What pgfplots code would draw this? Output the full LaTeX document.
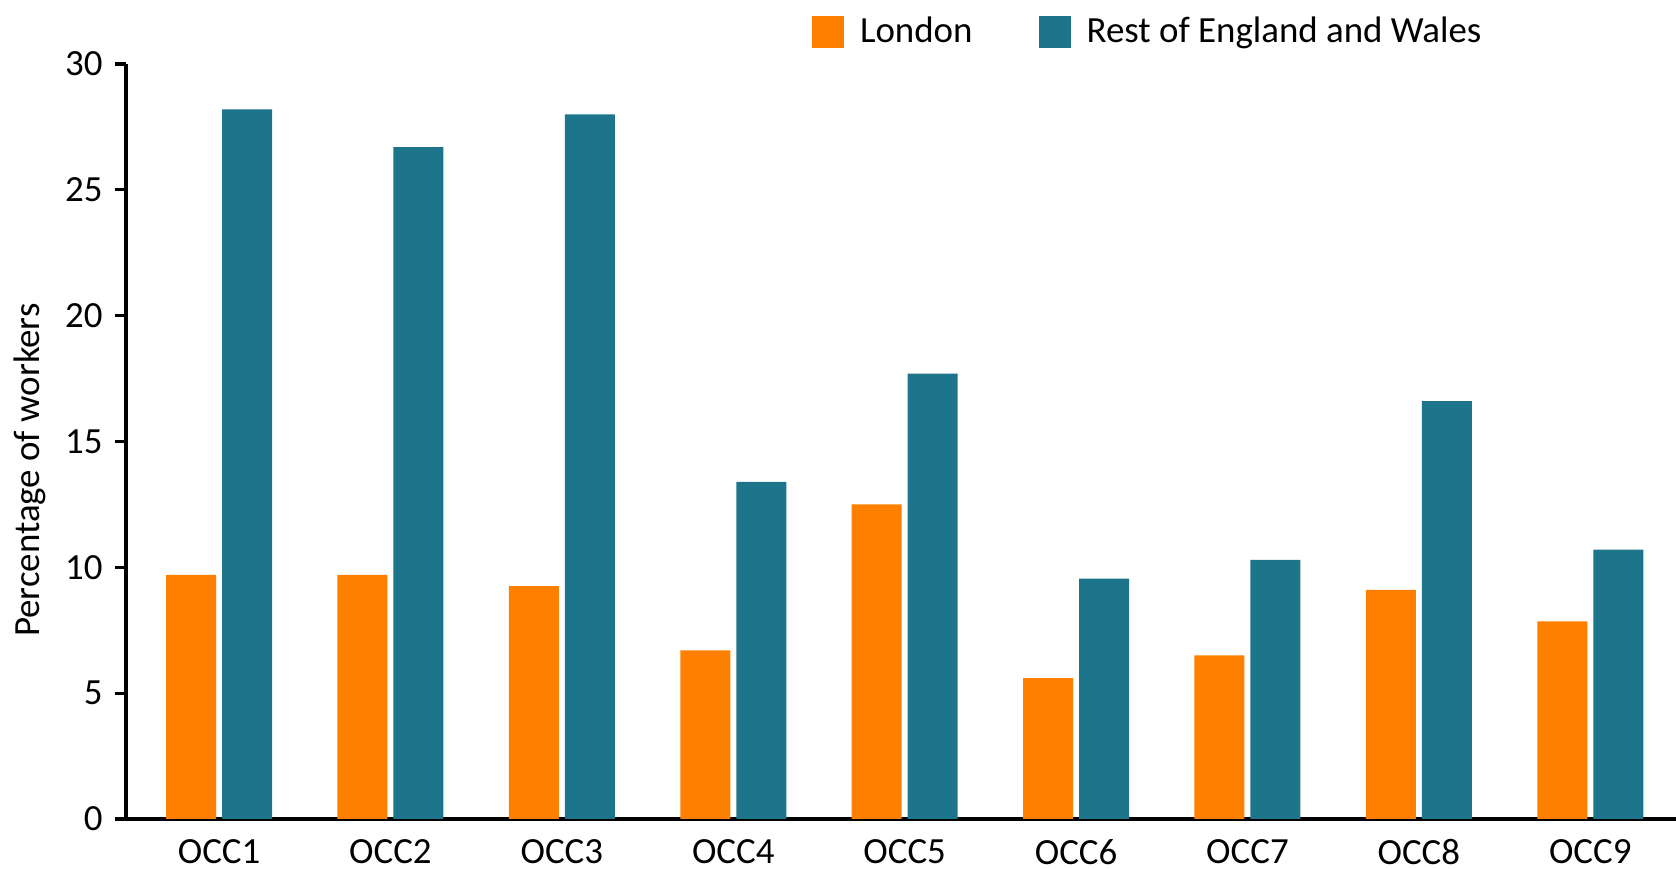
\documentclass[border=0pt]{standalone}
\usepackage{pgfplots}
\pgfplotsset{compat=1.18}
\usepackage{fontspec}
\setmainfont{Carlito}

\definecolor{london}{RGB}{255,127,0}
\definecolor{restew}{RGB}{29,117,139}

\begin{document}
\begin{tikzpicture}
\begin{axis}[
    name=ax,
    scale only axis,
    width=15.5cm, height=7.55cm,
    xmin=-0.543, xmax=8.5,
    ymin=0, ymax=30,
    ybar=0.06cm,
    bar width=0.5cm,
    axis lines=left,
    axis line style={-, line width=0.9pt},
    tick align=outside,
    major tick length=0.11cm,
    ytick={0,5,10,15,20,25,30},
    ytick style={line width=0.9pt, black},
    xtick={0,1,2,3,4,5,6,7,8},
    xticklabels={OCC1,OCC2,OCC3,OCC4,OCC5,OCC6,OCC7,OCC8,OCC9},
    xtick style={draw=none},
    /pgf/number format/assume math mode=true,
    tick label style={font=\fontsize{10.5}{12}\selectfont},
    xticklabel style={inner sep=0pt, yshift=-0.09cm},
    ylabel={Percentage of workers},
    ylabel style={font=\fontsize{10.5}{12}\selectfont, at={(axis description cs:-0.062,0.462)}, anchor=center},
    legend columns=2,
    legend style={draw=none, fill=none, inner sep=0pt, outer sep=0pt,
        at={(axis description cs:0.4426,1.042)}, anchor=west,
        font=\fontsize{10.5}{12}\selectfont,
        nodes={inner sep=0pt},
        /tikz/every odd column/.append style={column sep=0.16cm},
        /tikz/every even column/.append style={column sep=0.66cm}},
    legend image code/.code={\fill[#1] (0cm,-0.16cm) rectangle (0.32cm,0.16cm);},
]

\addplot[fill=london, draw=none]
coordinates {(0,9.7)(1,9.7)(2,9.25)(3,6.7)(4,12.5)(5,5.6)(6,6.5)(7,9.1)(8,7.85)};

\addplot[fill=restew, draw=none]
coordinates {(0,28.2)(1,26.7)(2,28.0)(3,13.4)(4,17.7)(5,9.55)(6,10.3)(7,16.6)(8,10.7)};

\legend{London,Rest of England and Wales}

\end{axis}
\pgfresetboundingbox
\path[use as bounding box] (-1.26cm,-0.50cm) rectangle (15.5cm,8.19cm);
\end{tikzpicture}
\end{document}
